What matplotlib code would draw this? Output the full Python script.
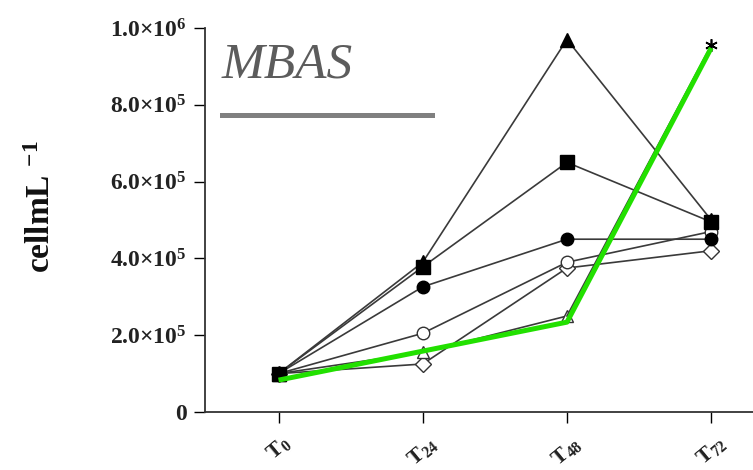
import matplotlib
matplotlib.use('Agg')
import matplotlib.pyplot as plt
from matplotlib.lines import Line2D

plt.rcParams['font.family'] = ['Liberation Serif', 'DejaVu Serif']
plt.rcParams['mathtext.default'] = 'regular'

# sampling times and their labels
times = [0, 1, 2, 3]
time_labels = ['T$_{0}$', 'T$_{24}$', 'T$_{48}$', 'T$_{72}$']

# cell densities (cell mL-1)
filled_triangle = [1.0e5, 3.9e5, 9.7e5, 5.0e5]
filled_square = [1.0e5, 3.78e5, 6.5e5, 4.95e5]
filled_circle = [1.0e5, 3.26e5, 4.5e5, 4.5e5]
open_circle = [1.0e5, 2.05e5, 3.9e5, 4.7e5]
open_diamond = [1.0e5, 1.25e5, 3.75e5, 4.2e5]
open_triangle = [1.0e5, 1.55e5, 2.5e5, 9.55e5]

# green overlay line (T0, T48, T72)
green_times = [0, 2, 3]
green_values = [0.83e5, 2.34e5, 9.48e5]

yticks = [0, 2e5, 4e5, 6e5, 8e5, 1e6]
ytick_labels = ['0', '2.0$\\times$10$^{5}$', '4.0$\\times$10$^{5}$', '6.0$\\times$10$^{5}$',
                '8.0$\\times$10$^{5}$', '1.0$\\times$10$^{6}$']

fig = plt.figure(figsize=(7.53, 4.70), dpi=100)
ax = fig.add_axes([205 / 753, 58 / 470, 1 - 205 / 753, (412 - 28) / 470])

lc = '#3a3a3a'
ax.plot(times, open_diamond, color=lc, lw=1.2, marker='D', ms=8, mfc='white', mec='#333333', zorder=2)
ax.plot(times[:3], open_triangle[:3], color=lc, lw=1.2, marker='^', ms=9, mfc='white', mec='#333333', zorder=2)
ax.plot(times[2:], open_triangle[2:], color=lc, lw=1.2, zorder=2)
ax.plot(times[3:], open_triangle[3:], ls='none', marker=(6, 2, 0), ms=9, mec='black', mew=1.2, zorder=2)
ax.plot(times, open_circle, color=lc, lw=1.2, marker='o', ms=9, mfc='white', mec='#333333', zorder=3)
ax.plot(times, filled_circle, color=lc, lw=1.2, marker='o', ms=9, mfc='black', mec='black', zorder=3)
ax.plot(times, filled_triangle, color=lc, lw=1.2, marker='^', ms=10, mfc='black', mec='black', zorder=3)
ax.plot(times, filled_square, color=lc, lw=1.2, marker='s', ms=10, mfc='black', mec='black', zorder=4)

ax.plot(green_times, green_values, color='#22e000', lw=3.6, solid_capstyle='butt', zorder=5)

ax.set_xlim(-0.51, 3.29)
ax.set_ylim(0, 1.0e6)
ax.set_xticks(times)
ax.set_xticklabels(time_labels, rotation=40, fontsize=16, fontweight='bold', color='#222222')
ax.set_yticks(yticks)
ax.set_yticklabels(ytick_labels, fontsize=17, fontweight='bold', color='#222222')
ax.tick_params(axis='y', length=8, width=1.0, pad=5)
ax.tick_params(axis='x', length=8, width=1.0, pad=7)
ax.spines['top'].set_visible(False)
ax.spines['right'].set_visible(False)
for s in ['left', 'bottom']:
    ax.spines[s].set_linewidth(1.3)
    ax.spines[s].set_color('#333333')

fig.text(42 / 753, 1 - 207 / 470, 'cellmL $^{-1}$', rotation=90, fontsize=24,
         fontweight='bold', ha='center', va='center', color='#111111')

fig.text(222 / 753, 1 - 77 / 470, 'MBAS', fontsize=37, style='italic',
         color='#5c5c5c', ha='left', va='baseline')
fig.add_artist(Line2D([222 / 753, 432 / 753], [1 - 115 / 470, 1 - 115 / 470],
                      transform=fig.transFigure, color='#808080', lw=3.6))

fig.savefig('out.png', dpi=100)
